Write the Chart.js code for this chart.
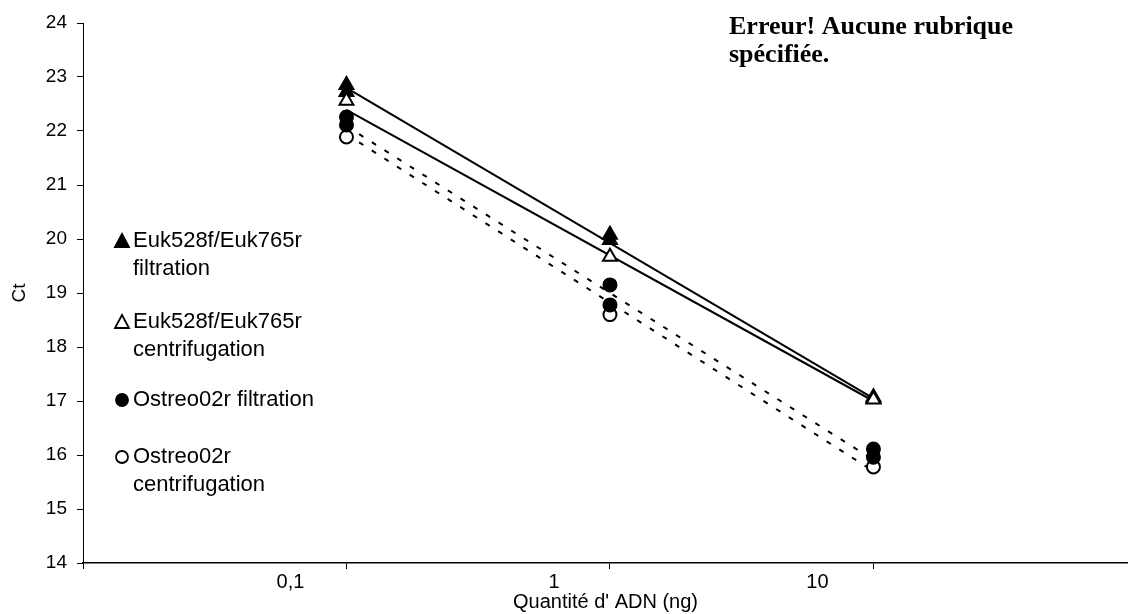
<!DOCTYPE html>
<html>
<head>
<meta charset="utf-8">
<script src="https://cdn.jsdelivr.net/npm/chart.js@4.4.1/dist/chart.umd.min.js"></script>
<style>
  html, body { margin: 0; padding: 0; background: #fff; }
  #wrap { position: relative; width: 1128px; height: 614px; }
</style>
</head>
<body>
<div id="wrap"><canvas id="c" width="1128" height="614"></canvas></div>
<script>
// ---- data ----
const xValues = [0.1, 1, 10];
const xTickValues = [0.01, 0.1, 1, 10];
const xTickLabels = ['', '0,1', '1', '10'];
const yTickMin = 14, yTickMax = 24;

// markers (two replicates for filtration series)
const eukFiltA = [22.85, 20.08, 17.07];
const eukFiltB = [22.72, 19.98, 17.04];
const eukCentr = [22.56, 19.67, 17.03];
const ostFiltA = [22.26, 19.15, 16.11];
const ostFiltB = [22.11, 18.78, 15.96];
const ostCentr = [21.89, 18.60, 15.78];

// trend lines (end points)
const trendX = [0.1, 10];
const trendEukFilt = [22.80, 17.05];
const trendEukCentr = [22.39, 17.00];
const trendOstFilt = [22.09, 15.91];
const trendOstCentr = [21.94, 15.70];

const legendLabels = [
  ['Euk528f/Euk765r', 'filtration'],
  ['Euk528f/Euk765r', 'centrifugation'],
  ['Ostreo02r filtration'],
  ['Ostreo02r', 'centrifugation']
];
const noteLines = ['Erreur! Aucune rubrique', 'spécifiée.'];
const xTitle = "Quantité d' ADN (ng)";
const yTitle = 'Ct';

// ---- build ----
const toPts = (xs, ys) => xs.map((x, i) => ({ x: x, y: ys[i] }));
const SANS = "'Liberation Sans', Arial, sans-serif";
const X_MAX = 92.5;

function markerDs(label, ys, style, filled, order) {
  return {
    label: label, data: toPts(xValues, ys), showLine: false,
    pointStyle: style, pointRadius: style === 'triangle' ? 8 : 6.5,
    pointHoverRadius: style === 'triangle' ? 8 : 6.5,
    pointBackgroundColor: filled ? '#000' : '#fff',
    pointBorderColor: '#000', pointBorderWidth: 2, order: order
  };
}
function trendDs(label, ys, dashed) {
  return {
    label: label, data: toPts(trendX, ys), showLine: true,
    borderColor: '#000', borderWidth: 2, borderDash: dashed ? [5, 10] : [],
    pointRadius: 0, pointHoverRadius: 0, fill: false, order: 10
  };
}

const datasets = [
  trendDs('trend Euk filtration', trendEukFilt, false),
  trendDs('trend Euk centrifugation', trendEukCentr, false),
  trendDs('trend Ostreo filtration', trendOstFilt, true),
  trendDs('trend Ostreo centrifugation', trendOstCentr, true),
  markerDs('Euk528f/Euk765r filtration', eukFiltA, 'triangle', true, 5),
  markerDs('Euk528f/Euk765r filtration (rep)', eukFiltB, 'triangle', true, 4),
  markerDs('Euk528f/Euk765r centrifugation', eukCentr, 'triangle', false, 3),
  markerDs('Ostreo02r centrifugation', ostCentr, 'circle', false, 2),
  markerDs('Ostreo02r filtration', ostFiltA, 'circle', true, 1),
  markerDs('Ostreo02r filtration (rep)', ostFiltB, 'circle', true, 0)
];

const legendPlugin = {
  id: 'sideLegend',
  afterDraw(chart) {
    const ctx = chart.ctx;
    const items = [
      { style: 'triangle', filled: true,  y: 241 },
      { style: 'triangle', filled: false, y: 322 },
      { style: 'circle',   filled: true,  y: 400 },
      { style: 'circle',   filled: false, y: 457 }
    ];
    ctx.save();
    ctx.font = '22px ' + SANS;
    ctx.fillStyle = '#000';
    ctx.textBaseline = 'middle';
    items.forEach((it, i) => {
      const mx = 122, my = it.y;
      ctx.beginPath();
      if (it.style === 'triangle') {
        ctx.moveTo(mx, my - 7); ctx.lineTo(mx + 7, my + 6); ctx.lineTo(mx - 7, my + 6); ctx.closePath();
      } else {
        ctx.arc(mx, my, 6, 0, Math.PI * 2);
      }
      ctx.fillStyle = it.filled ? '#000' : '#fff';
      ctx.fill();
      ctx.lineWidth = 1.8; ctx.strokeStyle = '#000'; ctx.stroke();
      ctx.fillStyle = '#000';
      legendLabels[i].forEach((t, k) => ctx.fillText(t, 133, my + k * 28));
    });
    ctx.font = "bold 26px 'Liberation Serif', 'Times New Roman', serif";
    noteLines.forEach((t, k) => ctx.fillText(t, 729, 27 + k * 28));
    ctx.restore();
  }
};

new Chart(document.getElementById('c'), {
  type: 'scatter',
  data: { datasets: datasets },
  options: {
    responsive: false, animation: false, devicePixelRatio: 1,
    layout: { autoPadding: false, padding: { top: 23, right: 0, left: 0, bottom: 0 } },
    plugins: { legend: { display: false }, tooltip: { enabled: false } },
    scales: {
      x: {
        type: 'logarithmic', min: 0.01, max: X_MAX, position: 'bottom',
        afterBuildTicks: (s) => {
          s.ticks = xTickValues.map(v => ({ value: v }));
          s.ticks.push({ value: X_MAX }); // invisible end tick
        },
        afterFit: (s) => { s.height = 51; s.paddingRight = 0; s.paddingLeft = 0; },
        ticks: {
          autoSkip: false, maxRotation: 0, minRotation: 0, color: '#000',
          font: { family: SANS, size: 20 }, padding: 1, labelOffset: -56,
          callback: (v, i) => (i < xTickLabels.length ? xTickLabels[i] : '')
        },
        grid: {
          drawOnChartArea: false, drawTicks: true, tickLength: 6, lineWidth: 1,
          color: (c) => (c.index < xTickValues.length ? '#000' : 'rgba(0,0,0,0)')
        },
        border: { color: '#000', width: 1.5 },
        title: { display: true, text: xTitle, color: '#000', font: { family: SANS, size: 20 }, padding: { top: 0, bottom: 0 } }
      },
      y: {
        min: yTickMin, max: yTickMax,
        afterFit: (s) => { s.width = 83; },
        ticks: { stepSize: 1, color: '#000', font: { family: SANS, size: 19 }, padding: 10 },
        grid: { drawOnChartArea: false, drawTicks: true, tickLength: 6, color: '#000', lineWidth: 1 },
        border: { color: '#000', width: 1 },
        title: { display: true, text: yTitle, color: '#000', font: { family: SANS, size: 19 }, padding: 8 }
      }
    }
  },
  plugins: [legendPlugin]
});
</script>
</body>
</html>
